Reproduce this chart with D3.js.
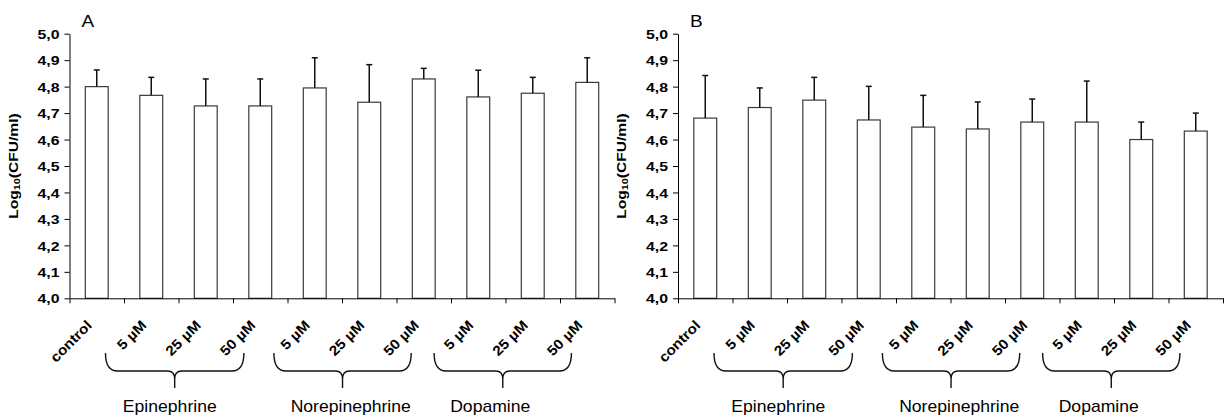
<!DOCTYPE html>
<html>
<head>
<meta charset="utf-8">
<script src="https://cdn.jsdelivr.net/npm/d3@7"></script>
<style>
  body { margin: 0; background: #fff; }
  text { font-family: "Liberation Sans", Arial, sans-serif; fill: #000; }
</style>
</head>
<body>
<div id="chart-area"></div>
<script>
// canvas size
const svgWidth = 1224,
      svgHeight = 420;

// data
const categories = ["control", "5 µM", "25 µM", "50 µM", "5 µM", "25 µM", "50 µM", "5 µM", "25 µM", "50 µM"];
const groupNames = ["Epinephrine", "Norepinephrine", "Dopamine"];
const yTicks = [4.0, 4.1, 4.2, 4.3, 4.4, 4.5, 4.6, 4.7, 4.8, 4.9, 5.0];

const meanA = [4.800, 4.767, 4.727, 4.727, 4.795, 4.741, 4.829, 4.761, 4.775, 4.816];
const sdA   = [0.063, 0.068, 0.102, 0.102, 0.114, 0.142, 0.040, 0.101, 0.060, 0.093];

const meanB = [4.681, 4.721, 4.749, 4.674, 4.647, 4.640, 4.666, 4.666, 4.600, 4.632];
const sdB   = [0.161, 0.074, 0.086, 0.127, 0.120, 0.102, 0.087, 0.155, 0.066, 0.068];

// brace extents and label centres, in category units
const braceSpans = [[0.66, 3.20], [3.75, 6.27], [6.69, 9.21]];
const groupLabelPos = [1.84, 5.16, 7.72];

const plotTop = 33.7, plotBottom = 298.3, plotWidth = 545;

var svg = d3.select("#chart-area").append("svg")
    .attr("width", svgWidth)
    .attr("height", svgHeight);

var yScale = d3.scaleLinear().domain([4, 5]).range([plotBottom, plotTop]);

function drawPanel(left, title, means, sds){
    var g = svg.append("g")
	.attr("transform", "translate(" + left + ",0)");

    var xScale = d3.scaleBand()
	.domain(d3.range(categories.length))
	.range([0, plotWidth])
	.paddingInner(0.58)
	.paddingOuter(0.29);
    var idx = d3.scaleLinear().domain([0, categories.length]).range([0, plotWidth]);

    // bars
    g.selectAll(".bar").data(means).enter().append("rect")
	.attr("class", "bar")
	.attr("x", function(d, i){ return xScale(i); })
	.attr("y", function(d){ return yScale(d); })
	.attr("width", xScale.bandwidth())
	.attr("height", function(d){ return plotBottom - yScale(d); })
	.attr("fill", "#fff")
	.attr("stroke", "#3a3a3a")
	.attr("stroke-width", 1.2);

    // error bars (upper only)
    var err = g.selectAll(".err").data(means).enter().append("g")
	.attr("class", "err")
	.attr("transform", function(d, i){ return "translate(" + (xScale(i) + xScale.bandwidth()/2) + ",0)"; });
    err.append("line")
	.attr("y1", function(d){ return yScale(d); })
	.attr("y2", function(d, i){ return yScale(d + sds[i]); })
	.attr("stroke", "#111").attr("stroke-width", 1.5);
    err.append("line")
	.attr("x1", -3).attr("x2", 3)
	.attr("y1", function(d, i){ return yScale(d + sds[i]); })
	.attr("y2", function(d, i){ return yScale(d + sds[i]); })
	.attr("stroke", "#111").attr("stroke-width", 1.5);

    // y axis
    var yAxis = g.append("g")
	.call(d3.axisLeft(yScale)
	      .tickValues(yTicks)
	      .tickSize(5)
	      .tickSizeOuter(0)
	      .tickPadding(5)
	      .tickFormat(function(d){ return d.toFixed(1).replace(".", ","); }));
    yAxis.selectAll("path, line").attr("stroke", "#000");
    yAxis.selectAll("text")
	.attr("font-family", null)
	.attr("font-size", "13px")
	.attr("font-weight", "bold")
	.attr("x", -8.2)
	.attr("dy", "0.36em")
	.attr("transform", "scale(1.22,1)");

    // x axis with ticks at category boundaries
    var xAxis = g.append("g")
	.attr("transform", "translate(0," + plotBottom + ")")
	.call(d3.axisBottom(idx)
	      .tickValues(d3.range(categories.length + 1))
	      .tickSize(5)
	      .tickSizeOuter(0)
	      .tickFormat(""));
    xAxis.selectAll("path, line").attr("stroke", "#000");

    // rotated category labels
    g.selectAll(".xlab").data(categories).enter().append("text")
	.attr("class", "xlab")
	.attr("text-anchor", "end")
	.attr("font-size", "14px")
	.attr("font-weight", "bold")
	.attr("transform", function(d, i){
	    return "translate(" + (xScale(i) + xScale.bandwidth()/2 - 4) + "," + (plotBottom + 28) + ") rotate(-45) scale(1.1,1)";
	})
	.text(function(d){ return d; });

    // braces
    g.selectAll(".brace").data(braceSpans).enter().append("path")
	.attr("class", "brace")
	.attr("fill", "none")
	.attr("stroke", "#111")
	.attr("stroke-width", 1.4)
	.attr("d", function(d){
	    var x0 = idx(d[0]), x1 = idx(d[1]), m = (x0 + x1)/2;
	    var yT = 353, yH = 371, yB = 388;
	    return "M" + x0 + "," + yT + " Q" + x0 + "," + yH + " " + (x0 + 12) + "," + yH +
		" L" + (m - 7) + "," + yH + " Q" + m + "," + yH + " " + m + "," + (yH + 8) +
		" L" + m + "," + yB +
		" M" + m + "," + (yH + 8) + " Q" + m + "," + yH + " " + (m + 7) + "," + yH +
		" L" + (x1 - 12) + "," + yH + " Q" + x1 + "," + yH + " " + x1 + "," + yT;
	});

    g.selectAll(".glab").data(groupNames).enter().append("text")
	.attr("class", "glab")
	.attr("text-anchor", "middle")
	.attr("font-size", "16px")
	.attr("transform", function(d, i){ return "translate(" + idx(groupLabelPos[i]) + ",412) scale(1.1,1)"; })
	.text(function(d){ return d; });

    // y axis label
    var yl = g.append("text")
	.attr("text-anchor", "middle")
	.attr("font-size", "13px")
	.attr("font-weight", "bold")
	.attr("transform", "translate(" + (-52) + "," + ((plotTop + plotBottom)/2) + ") rotate(-90) scale(1.2,1)");
    yl.append("tspan").text("Log");
    yl.append("tspan").attr("font-size", "9px").attr("dy", "2").text("10");
    yl.append("tspan").attr("dy", "-2").text("(CFU/ml)");

    // panel letter
    g.append("text")
	.attr("font-size", "17px")
	.attr("transform", "translate(12,27) scale(1.12,1)")
	.text(title);
}

drawPanel(69.5, "A", meanA, sdA);
drawPanel(678, "B", meanB, sdB);
</script>
</body>
</html>
